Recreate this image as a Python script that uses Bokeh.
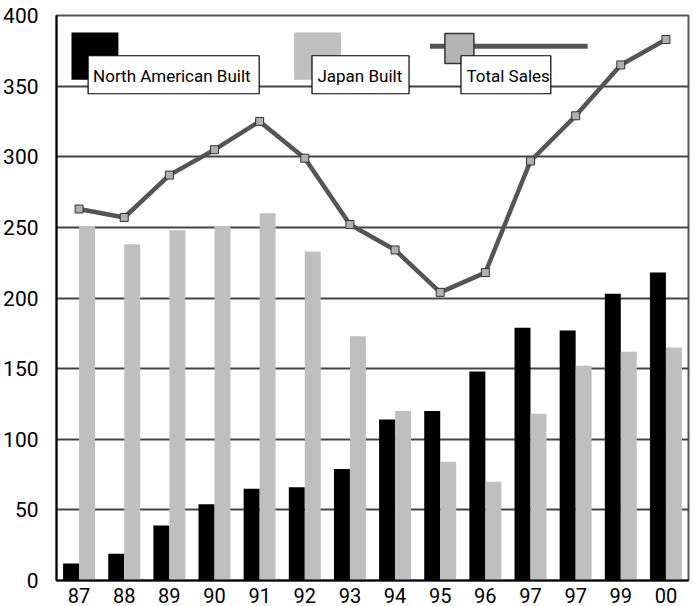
from bokeh.plotting import figure
from bokeh.models import ColumnDataSource, Range1d, FixedTicker
from bokeh.transform import dodge
from bokeh.core.properties import value
from bokeh.embed import file_html
from bokeh.resources import INLINE

# Model years (two-digit labels as printed on the axis)
years = ["87", "88", "89", "90", "91", "92", "93", "94", "95", "96", "97", "97", "99", "00"]

# Unit sales by origin
north_american_built = [12, 19, 39, 54, 65, 66, 79, 114, 120, 148, 179, 177, 203, 218]
japan_built = [251, 238, 248, 251, 260, 233, 173, 120, 84, 70, 118, 152, 162, 165]
total_sales = [263, 257, 287, 305, 325, 299, 252, 234, 204, 218, 297, 329, 365, 383]

y_ticks = [0, 50, 100, 150, 200, 250, 300, 350, 400]

FONT = "Roboto"

xs = [i + 0.5 for i in range(len(years))]
src = ColumnDataSource(dict(x=xs, na=north_american_built, jp=japan_built, tot=total_sales))

p = figure(width=693, height=606, output_backend="svg", toolbar_location=None,
           x_range=Range1d(0, len(years)), y_range=Range1d(0, 400),
           min_border_left=55, min_border_right=5, min_border_top=15, min_border_bottom=26)

p.background_fill_color = "white"
p.border_fill_color = "white"
p.outline_line_color = "#555555"
p.outline_line_width = 2

# axes
p.xaxis.ticker = FixedTicker(ticks=xs)
p.xaxis.major_label_overrides = {x: y for x, y in zip(xs, years)}
p.yaxis.ticker = FixedTicker(ticks=y_ticks)
for ax in (p.xaxis[0], p.yaxis[0]):
    ax.axis_line_color = "black"
    ax.axis_line_width = 2
    ax.major_tick_line_color = None
    ax.minor_tick_line_color = None
    ax.major_label_text_font = FONT
    ax.major_label_text_font_size = "21px"
    ax.major_label_text_color = "black"
p.yaxis.major_label_standoff = 12
p.xaxis.major_label_standoff = 1
p.xaxis.major_label_text_font_size = "20px"

p.xgrid.grid_line_color = None
p.ygrid.grid_line_color = "#444444"
p.ygrid.grid_line_width = 2

# bars
bw = 0.354
p.vbar(x=dodge("x", -bw / 2, range=p.x_range), top="na", width=bw, source=src,
       fill_color="black", line_color=None)
p.vbar(x=dodge("x", bw / 2, range=p.x_range), top="jp", width=bw, source=src,
       fill_color="#bfbfbf", line_color=None)

# total sales line
p.line("x", "tot", source=src, line_color="#555555", line_width=4.5)
p.scatter("x", "tot", source=src, marker="square", size=8,
          fill_color="#b0b0b0", line_color="#333333", line_width=1)

# legend (hand-built key)
p.quad(left=[0.332], right=[1.371], top=[388], bottom=[354.6], fill_color="black", line_color=None)
p.quad(left=[5.264], right=[6.304], top=[388], bottom=[354.6], fill_color="#bfbfbf", line_color=None)
p.line([8.272, 11.767], [378.2, 378.2], line_color="#555555", line_width=5)
p.quad(left=[8.604], right=[9.246], top=[387.2], bottom=[366.0],
       fill_color="#b4b4b4", line_color="#333333", line_width=1.5)

boxes = dict(left=[0.70, 5.66, 8.96], right=[4.49, 7.81, 10.95],
             top=[371.5, 371.5, 371.5], bottom=[344.6, 344.6, 344.6])
p.quad(source=ColumnDataSource(boxes), left="left", right="right", top="top", bottom="bottom",
       fill_color="white", line_color="black", line_width=1.2)
p.text(x=[0.81, 5.78, 9.08], y=[357.5, 357.5, 357.5],
       text=["North American Built", "Japan Built", "Total Sales"],
       text_font=value(FONT), text_font_size="17px", text_color="black",
       text_align="left", text_baseline="middle")

open("out.html", "w").write(file_html(p, INLINE))
